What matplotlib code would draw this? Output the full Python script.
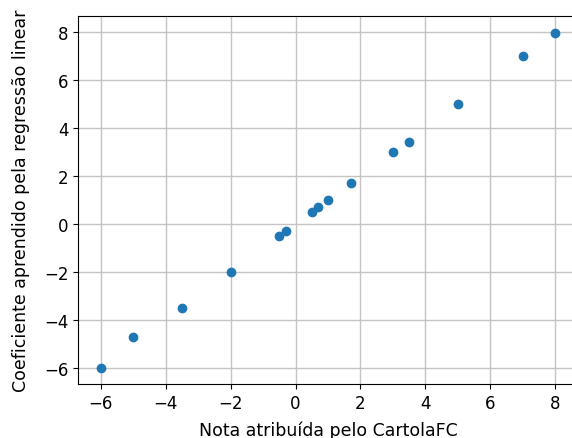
import matplotlib
matplotlib.use('Agg')
import matplotlib.pyplot as plt

# nota do CartolaFC vs coeficiente da regressao
nota_cartola = [-6, -5, -3.5, -2, -0.5, -0.3, 0.5, 0.7, 1, 1.7, 3, 3.5, 5, 7, 8]
coeficiente = [-6, -4.7, -3.5, -2, -0.5, -0.3, 0.5, 0.7, 1, 1.7, 3, 3.4, 5, 7, 7.95]

fig = plt.figure(figsize=(5.72, 4.39), dpi=100)
# the original was cropped a bit on the right, so the axes go past the edge
ax = fig.add_axes([78 / 572, 54 / 439, 500 / 572, 368 / 439])

ax.scatter(nota_cartola, coeficiente, s=36, color='#1f77b4', zorder=3)
ax.grid(True, color='#c4c4c4', linewidth=1.0)
ax.set_axisbelow(True)

ax.set_xlim(-6.7, 8.7)
ax.set_ylim(-6.67, 8.67)
ax.set_xticks([-6, -4, -2, 0, 2, 4, 6, 8])
ax.set_yticks([-6, -4, -2, 0, 2, 4, 6, 8])
ax.tick_params(labelsize=12)

ax.set_xlabel('Nota atribuída pelo CartolaFC', fontsize=12.5, labelpad=6)
ax.set_ylabel('Coeficiente aprendido pela regressão linear', fontsize=12.5,
              labelpad=10)

fig.savefig('out.png', dpi=100)
